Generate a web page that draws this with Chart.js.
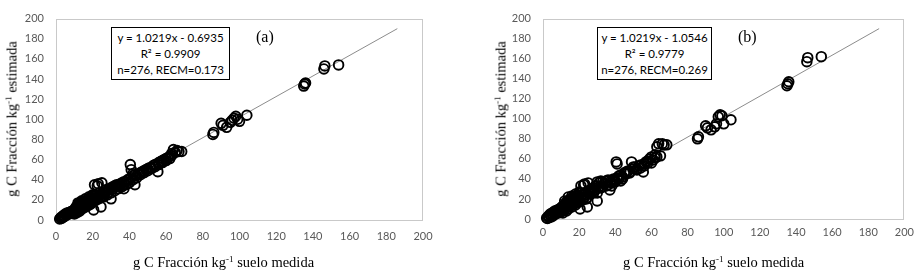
<!DOCTYPE html>
<html>
<head>
<meta charset="utf-8">
<script src="https://cdn.jsdelivr.net/npm/chart.js@4.4.0/dist/chart.umd.min.js"></script>
<style>
  body { margin: 0; background: #fff; }
  #wrap { position: relative; width: 921px; height: 271px; overflow: hidden; }
  .panel { position: absolute; top: 0; height: 271px; }
  .eq {
    position: absolute; box-sizing: border-box; border: 1.5px solid #000;
    font-family: Lato, "Open Sans", sans-serif; font-size: 11.5px; line-height: 16px;
    text-align: center; color: #000; padding-top: 2px; background: #fff;
  }
  .tag { position: absolute; font-family: "Liberation Serif", serif; font-size: 16px; color: #000; }
  .tit {
    position: absolute; font-family: "Liberation Serif", serif; font-size: 14.5px;
    line-height: 15px; color: #000; white-space: nowrap;
  }
  .tit sup { font-size: 9px; line-height: 0; vertical-align: 5px; }
  .rot { transform: translate(-50%, -50%) rotate(-90deg); }
</style>
</head>
<body>
<div id="wrap">
  <canvas id="grafA" class="panel" style="left:0px" width="460" height="271"></canvas>
  <canvas id="grafB" class="panel" style="left:460px" width="461" height="271"></canvas>

  <div class="eq" style="left:111px;top:27px;width:119px;height:53px">y = 1.0219x - 0.6935<br>R² = 0.9909<br>n=276, RECM=0.173</div>
  <div class="tag" style="left:256px;top:28px">(a)</div>
  <div class="tit" style="left:133px;top:255px">g C Fracción kg<sup>-1</sup> suelo medida</div>
  <div class="tit rot" style="left:12px;top:119px">g C Fracción kg<sup>-1</sup> estimada</div>

  <div class="eq" style="left:597px;top:27px;width:115px;height:53px">y = 1.0219x - 1.0546<br>R² = 0.9779<br>n=276, RECM=0.269</div>
  <div class="tag" style="left:738px;top:28px">(b)</div>
  <div class="tit" style="left:623px;top:255px">g C Fracción kg<sup>-1</sup> suelo medida</div>
  <div class="tit rot" style="left:501px;top:119px">g C Fracción kg<sup>-1</sup> estimada</div>
</div>

<script>
// valores medidos (eje x, comunes a los dos paneles)
var medida = [2, 2.5, 3, 3, 3.5, 4, 4, 4.5, 5, 5, 5.5, 6, 6, 6.5, 7, 7, 7.5, 8, 8, 8.5,
  9, 9, 9.5, 10, 10, 10.5, 11, 11, 11.5, 12, 12, 12.5, 13, 13, 13.5, 14, 14, 14.5, 15, 15,
  15.5, 16, 16, 16.5, 17, 17, 17.5, 18, 18, 18.5, 19, 19, 19.5, 20, 20, 20.5, 21, 21, 22, 22,
  22.5, 23, 23, 24, 24, 24.5, 25, 25, 26, 26, 27, 27, 28, 28, 29, 29, 30, 30, 31, 31,
  32, 33, 33, 34, 35, 35, 36, 37, 37, 38, 39, 40, 40.5, 41, 41, 42, 42, 43, 43, 44,
  45, 46, 47, 48, 49, 50, 51, 52, 53, 54, 55.5, 56, 57, 58, 59, 60, 61, 62, 63, 63,
  64, 65, 66, 67, 68.5, 85.5, 86, 90, 91, 93, 95, 96, 97, 98, 99, 100, 104,
  135, 135.5, 136, 146, 146.5, 154,
  10, 11, 12, 13, 14, 15, 16, 17, 18, 19, 20, 21, 22, 23, 24, 26, 28, 30, 32, 34,
  36, 38, 39, 40, 42, 44, 46, 48, 50, 52, 54, 56, 58, 60, 62, 12, 14, 16, 18, 20];

// panel (a)
var estimadaA = [1, 2, 1.5, 3, 2.5, 3, 4.5, 3.5, 4, 6, 5, 5.5, 7, 6, 7.5, 6, 7, 8, 6.5, 8.5,
  9, 7.5, 9.5, 10, 8, 11, 11, 13, 10.5, 12, 15, 16, 13, 17, 14, 18, 13, 16, 15, 18,
  17, 16, 19, 15, 18, 17, 19, 18, 20, 17, 19, 22, 20, 21, 25, 10, 35, 22, 21, 24,
  34, 23, 36, 25, 22, 13, 37, 26, 27, 24, 28, 30, 29, 27, 30, 31, 21, 32, 31, 33,
  34, 33, 35, 34, 36, 34, 37, 31, 38, 38, 40, 41, 55, 50, 42, 44, 46, 35, 45, 44,
  46, 47, 48, 49, 50, 51, 52, 52, 54, 55, 48, 57, 58, 59, 60, 61, 62, 63, 66, 64,
  70, 67, 69, 68, 68, 85, 87, 96, 94, 92, 97, 99, 101, 103, 100, 98, 104,
  133, 135, 136, 150, 153, 154,
  6, 7, 8, 9, 11, 12, 13, 14, 15, 16, 18, 19, 20, 21, 22, 23, 25, 27, 29, 31,
  33, 35, 36, 37, 40, 42, 45, 47, 49, 51, 53, 55, 57, 59, 61, 17, 19, 21, 23, 24];

// panel (b)
var estimadaB = [1, 0.5, 2, 3, 1.5, 4, 5, 2, 5.5, 6, 3, 7, 6, 8, 7, 5, 8.5, 7, 9, 6,
  10, 8, 7, 11, 9, 12, 10, 13, 12.5, 14, 11, 16, 12, 17, 15, 18, 12, 19, 14, 20,
  16, 18, 21, 15, 22, 17, 20, 19, 23, 16, 21, 24, 18, 22, 26, 10, 33, 21, 20, 25,
  34, 22, 35, 27, 21, 12, 36, 28, 26, 29, 30, 27, 31, 26, 33, 29, 18, 37, 32, 36,
  38, 32, 37, 36, 38, 33, 39, 29, 37, 36, 40, 38, 57, 55, 41, 43, 40, 38, 44, 42,
  46, 45, 48, 47, 57, 50, 52, 49, 53, 51, 47, 55, 57, 56, 60, 62, 59, 64, 72, 62,
  75, 63, 75, 74, 74, 80, 82, 93, 91, 89, 92, 95, 102, 104, 103, 95, 99,
  133, 135, 137, 157, 161, 162,
  7, 6, 9, 8, 10, 13, 12, 15, 14, 18, 17, 22, 19, 24, 20, 25, 28, 26, 31, 35,
  34, 33, 39, 37, 41, 40, 47, 46, 52, 50, 54, 53, 58, 56, 61, 18, 22, 23, 25, 27];

// recta de ajuste
var lineaX = [0, 186];
var lineaY = [0, 190];

// marcas de los ejes
var marcasX = [0, 20, 40, 60, 80, 100, 120, 140, 160, 180, 200];
var marcasY = [0, 20, 40, 60, 80, 100, 120, 140, 160, 180, 200];

// marco gris alrededor del área de trazado
var marco = {
  id: "marco",
  beforeDatasetsDraw: function (chart) {
    var a = chart.chartArea;
    var ctx = chart.ctx;
    ctx.save();
    ctx.strokeStyle = "#c9c9c9";
    ctx.lineWidth = 1;
    ctx.strokeRect(Math.round(a.left) + 0.5, Math.round(a.top) + 0.5,
      Math.round(a.width) - 1, Math.round(a.height));
    ctx.restore();
  }
};

function crearGrafico(id, estimada, cfg) {
  var puntos = medida.map(function (x, i) { return { x: x, y: estimada[i] }; });
  var recta = lineaX.map(function (x, i) { return { x: x, y: lineaY[i] }; });
  var fuenteTicks = { family: "Lato, 'Open Sans', sans-serif", size: 11 };

  return new Chart(document.getElementById(id), {
    type: "scatter",
    data: {
      datasets: [{
        data: puntos,
        pointStyle: "circle",
        pointRadius: 4.8,
        pointBorderWidth: 1.9,
        pointBorderColor: "#000",
        pointBackgroundColor: "rgba(0,0,0,0)",
        clip: false,
        order: 1
      }, {
        type: "line",
        data: recta,
        borderColor: "#8c8c8c",
        borderWidth: 1,
        pointRadius: 0,
        fill: false,
        order: 2
      }]
    },
    options: {
      responsive: false,
      animation: false,
      layout: { padding: { left: 0, right: cfg.derecha, top: cfg.arriba, bottom: 0 } },
      plugins: { legend: { display: false }, tooltip: { enabled: false } },
      scales: {
        x: {
          type: "linear", min: 0, max: 200,
          afterBuildTicks: function (s) { s.ticks = marcasX.map(function (v) { return { value: v }; }); },
          afterFit: function (s) { s.height = cfg.altoX; },
          grid: { display: false, drawTicks: false },
          border: { display: false },
          ticks: { color: "#595959", font: fuenteTicks, padding: cfg.padTickX, maxRotation: 0 }
        },
        y: {
          type: "linear", min: 0, max: 200,
          afterBuildTicks: function (s) { s.ticks = marcasY.map(function (v) { return { value: v }; }); },
          afterFit: function (s) { s.width = cfg.anchoY; },
          grid: { display: false, drawTicks: false },
          border: { display: false },
          ticks: { color: "#595959", font: fuenteTicks, padding: 12 }
        }
      }
    },
    plugins: [marco]
  });
}

crearGrafico("grafA", estimadaA, { anchoY: 56, altoX: 51, derecha: 37, arriba: 11, padTickX: 10 });
crearGrafico("grafB", estimadaB, { anchoY: 83, altoX: 52, derecha: 12, arriba: 9, padTickX: 7 });
</script>
</body>
</html>
